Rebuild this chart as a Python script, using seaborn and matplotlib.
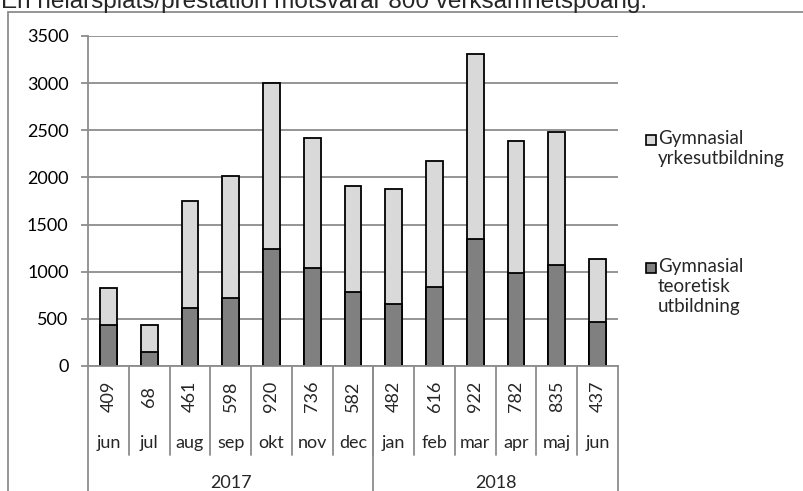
import numpy as np
import pandas as pd
import matplotlib
matplotlib.use("Agg")
import matplotlib.pyplot as plt
import matplotlib.transforms as mtransforms
from matplotlib.lines import Line2D
from matplotlib.patches import Rectangle
import seaborn as sns

# ─────────────────────────────────────────────
# DATA
# ─────────────────────────────────────────────
months = ["jun", "jul", "aug", "sep", "okt", "nov", "dec",
          "jan", "feb", "mar", "apr", "maj", "jun"]
years = ["2017", "2018"]
year_len = [7, 6]
counts = ["409", "68", "461", "598", "920", "736", "582",
          "482", "616", "922", "782", "835", "437"]
teoretisk = [438, 145, 618, 718, 1238, 1036, 782, 654, 835, 1350, 990, 1075, 463]
yrkes = [392, 286, 1132, 1300, 1762, 1379, 1124, 1223, 1339, 1959, 1400, 1404, 669]

label_yrkes = "Gymnasial\nyrkesutbildning"
label_teor = "Gymnasial\nteoretisk\nutbildning"
title = "En helårsplats/prestation motsvarar 800 verksamhetspoäng."

LIGHT, DARK, GRID = "#d9d9d9", "#808080", "#8c8c8c"
FS = 13

sns.set_theme(style="white")
plt.rcParams["font.family"] = ["Lato", "DejaVu Sans"]

df = pd.DataFrame({"pos": [f"{i:02d}" for i in range(len(months))],
                   "teoretisk": teoretisk, "yrkes": yrkes})
df["total"] = df["teoretisk"] + df["yrkes"]

fig = plt.figure(figsize=(8.04, 4.91), dpi=100)
ax = fig.add_axes([88 / 804, 1 - 366 / 491, 530 / 804, 330 / 491])

# stacked bars: full height in light grey, lower part overdrawn in dark grey
sns.barplot(data=df, x="pos", y="total", color=LIGHT, saturation=1, width=0.41,
            edgecolor="black", linewidth=1.3, ax=ax)
sns.barplot(data=df, x="pos", y="teoretisk", color=DARK, saturation=1, width=0.41,
            edgecolor="black", linewidth=1.3, ax=ax)

ax.set_ylim(0, 3500)
ax.set_xlim(-0.5, len(months) - 0.5)
ax.set_yticks(np.arange(0, 3501, 500))
ax.yaxis.grid(True, color=GRID, linewidth=1.3)
ax.set_axisbelow(True)
ax.set_xlabel("")
ax.set_ylabel("")
ax.set_xticks([])
for s in ["top", "right"]:
    ax.spines[s].set_visible(False)
for s in ["left", "bottom"]:
    ax.spines[s].set_color(GRID)
    ax.spines[s].set_linewidth(1.3)
ax.tick_params(axis="y", left=True, length=5, width=1.3, color=GRID, pad=9,
               labelsize=FS, labelcolor="black")

# multi-level category axis
trans = mtransforms.blended_transform_factory(ax.transData, ax.transAxes)
for i, (c, m) in enumerate(zip(counts, months)):
    ax.text(i, -0.092, c, rotation=90, ha="center", va="center",
            fontsize=FS, transform=trans)
    ax.text(i, -0.232, m, ha="center", va="center", fontsize=FS, transform=trans)
for b in range(1, len(months)):
    ax.add_line(Line2D([b - 0.5, b - 0.5], [0, -0.27], color=GRID, lw=1.3,
                       transform=trans, clip_on=False))
start = 0
for y, n in zip(years, year_len):
    ax.text(start + n / 2 - 0.5, -0.355, y, ha="center", va="center",
            fontsize=FS, transform=trans)
    start += n
edge = -0.5
for n in [0] + year_len:
    edge += n
    ax.add_line(Line2D([edge, edge], [0, -0.4], color=GRID, lw=1.3,
                       transform=trans, clip_on=False))

# legend, drawn by hand so that the two entries sit far apart
for (lab, col, ytop) in [(label_yrkes, LIGHT, 135), (label_teor, DARK, 263)]:
    fig.add_artist(Rectangle((646 / 804, 1 - (ytop + 10) / 491), 10 / 804, 10 / 491,
                             facecolor=col, edgecolor="black", lw=1.2,
                             transform=fig.transFigure))
    fig.text(658 / 804, 1 - (ytop - 5) / 491, lab, ha="left", va="top",
             fontsize=13.5, linespacing=1.22)

# outer chart frame and clipped caption line above it
fig.add_artist(Line2D([8 / 804, 1], [1 - 12 / 491] * 2, color=GRID, lw=1.3,
                      transform=fig.transFigure))
fig.add_artist(Line2D([8 / 804] * 2, [0, 1 - 12 / 491], color=GRID, lw=1.3,
                      transform=fig.transFigure))
fig.text(1 / 804, 1 - 8 / 491, title, ha="left", va="baseline", fontsize=17.5,
         family="Liberation Sans")

fig.savefig("out.png", dpi=100)
